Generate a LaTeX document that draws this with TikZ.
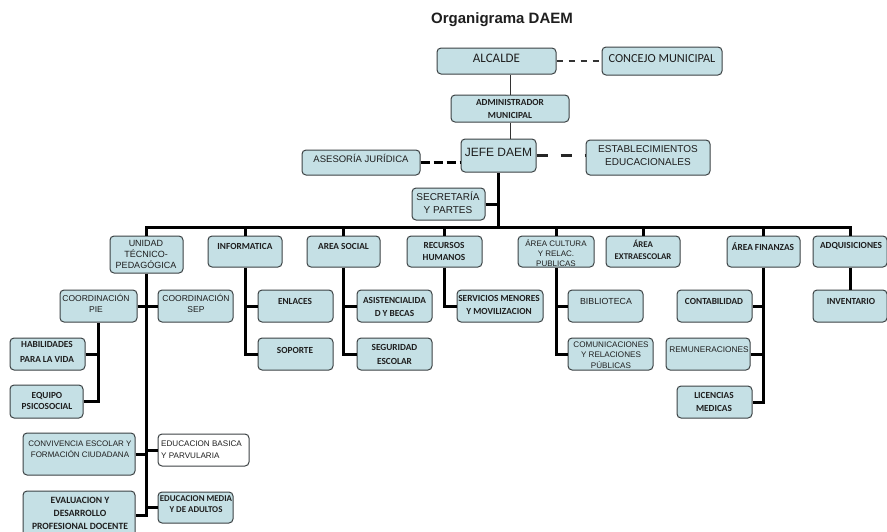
\documentclass[tikz,border=0pt]{standalone}
\usepackage{fontspec}
\setmainfont{Liberation Sans}
\newfontfamily\calib{Carlito}
\definecolor{boxfill}{RGB}{197,224,229}
\definecolor{boxline}{RGB}{60,66,68}
\definecolor{txtc}{RGB}{30,30,30}
\newcommand\bx[9]{%
  \pgfmathsetmacro\bw{#4-#2}\pgfmathsetmacro\bh{#5-#3}%
  \node[box, minimum width=\bw pt, minimum height=\bh pt] (#1) at ({(#2+#4)/2},{(#3+#5)/2}) {};
  \node[#8] (#1t) at (#6,#7) {#9};}
\begin{document}
\begin{tikzpicture}[x=1pt,y=-1pt,
  box/.style={draw=boxline, fill=boxfill, rounded corners=4pt, line width=1pt, inner sep=0pt},
  basetxt/.style={inner sep=0pt, align=center, text=txtc},
  cb/.style={basetxt, font=\calib\bfseries\fontsize{9.3}{13}\selectfont},
  cbs/.style={basetxt, font=\calib\bfseries\fontsize{8.8}{11.5}\selectfont},
  cr/.style={basetxt, font=\calib\fontsize{13}{15}\selectfont},
  ar/.style={basetxt, font=\fontsize{8.5}{11}\selectfont},
  arm/.style={basetxt, font=\fontsize{10}{13}\selectfont},
  ars/.style={basetxt, font=\fontsize{8.1}{10.5}\selectfont},
  thinl/.style={draw=black!80, line width=0.8pt},
  thk/.style={draw=black, line width=3pt},
  dashA/.style={draw=black!80, line width=1.4pt, dash pattern=on 6pt off 6pt},
  dashB/.style={draw=black, line width=3pt, dash pattern=on 9pt off 4pt},
  dashC/.style={draw=black!85, line width=2.3pt, dash pattern=on 11pt off 13pt}]
\useasboundingbox (0,0) rectangle (887,531);

\node[basetxt, font=\bfseries\fontsize{15}{17}\selectfont] (title) at (502,20) {Organigrama DAEM};

% top
\bx{alc}{437}{48}{556}{74}{496.5}{58}{cr}{ALCALDE}
\bx{conc}{602}{47}{722}{75}{662}{59}{cr, font=\calib\fontsize{12.3}{14}\selectfont}{CONCEJO MUNICIPAL}
\bx{adm}{451}{95}{569}{122}{510}{109}{cb}{ADMINISTRADOR\\MUNICIPAL}
\bx{jefe}{461}{139}{536}{172}{498.5}{152}{basetxt, font=\fontsize{12}{14}\selectfont}{JEFE DAEM}
\bx{ases}{302}{150}{420}{175}{361}{158}{basetxt, font=\fontsize{9.5}{12}\selectfont}{ASESORÍA JURÍDICA}
\bx{est}{586}{140}{710}{175}{648}{155.5}{arm}{ESTABLECIMIENTOS\\EDUCACIONALES}
\bx{sec}{412}{188}{485}{220}{448}{202.5}{arm}{SECRETARÍA\\Y PARTES}

% second level
\bx{utp}{110}{236}{183}{273}{146}{254}{basetxt, font=\fontsize{9}{11}\selectfont}{UNIDAD\\TÉCNICO-\\PEDAGÓGICA}
\bx{inf}{208}{236}{282}{267}{245}{246.5}{cb}{INFORMATICA}
\bx{soc}{307}{236}{380}{267}{343.5}{246.5}{cb}{AREA SOCIAL}
\bx{rrhh}{407}{236}{482}{267}{444}{251}{cb, font=\calib\bfseries\fontsize{9.3}{12}\selectfont}{RECURSOS\\HUMANOS}
\bx{cul}{518}{236}{594}{267}{556}{253}{basetxt, font=\fontsize{8}{10}\selectfont}{ÁREA CULTURA\\Y RELAC.\\PUBLICAS}
\bx{ext}{606}{236}{680}{267}{643}{250}{cbs}{ÁREA\\EXTRAESCOLAR}
\bx{fin}{727}{236}{800}{267}{763}{246.5}{cb}{ÁREA FINANZAS}
\bx{adq}{813}{236}{887}{267}{851}{246.5}{cb}{ADQUISICIONES}

% UTP branch
\bx{pie}{60}{290}{137}{322}{96}{303}{ar}{COORDINACIÓN\\PIE}
\bx{sep}{158}{290}{233}{322}{196}{303}{ar}{COORDINACIÓN\\SEP}
\bx{hab}{10}{338}{85}{370}{47}{352}{cb, font=\calib\bfseries\fontsize{9.3}{14.5}\selectfont}{HABILIDADES\\PARA LA VIDA}
\bx{equ}{10}{385}{83}{418}{47}{401}{cb, font=\calib\bfseries\fontsize{9.3}{11.5}\selectfont}{EQUIPO\\PSICOSOCIAL}
\bx{conv}{23}{433}{135}{475}{80}{449}{basetxt, font=\fontsize{8}{11.5}\selectfont}{CONVIVENCIA ESCOLAR Y\\FORMACIÓN CIUDADANA}
\node[box, fill=white, minimum width=91pt, minimum height=32pt] (edb) at (203.5,450) {};
\node[basetxt, align=left, anchor=west, font=\fontsize{8.1}{12}\selectfont] (edbt) at (161,450) {EDUCACION BASICA\\Y PARVULARIA};
\bx{eval}{23}{491}{135}{540}{80}{513}{cb, font=\calib\bfseries\fontsize{9.6}{13}\selectfont}{EVALUACION Y\\DESARROLLO\\PROFESIONAL DOCENTE}
\bx{edm}{158}{492}{233}{523}{196}{504.5}{cbs, font=\calib\bfseries\fontsize{8.9}{11}\selectfont}{EDUCACION MEDIA\\Y DE ADULTOS}

% other branches
\bx{enl}{258}{290}{333}{322}{295}{301}{cb}{ENLACES}
\bx{sop}{258}{338}{333}{370}{295}{350}{cb}{SOPORTE}
\bx{asi}{357}{290}{432}{322}{394.5}{306.5}{cb}{ASISTENCIALIDA\\D Y BECAS}
\bx{seg}{357}{338}{432}{370}{394.5}{354}{cb, font=\calib\bfseries\fontsize{9.3}{14}\selectfont}{SEGURIDAD\\ESCOLAR}
\bx{ser}{457}{290}{543}{322}{499}{304.5}{cb}{SERVICIOS MENORES\\Y MOVILIZACION}
\bx{bib}{568}{290}{643}{322}{606}{301}{basetxt, font=\fontsize{8.8}{11}\selectfont}{BIBLIOTECA}
\bx{com}{568}{338}{653}{370}{611}{355}{ars}{COMUNICACIONES\\Y RELACIONES\\PÚBLICAS}
\bx{con}{677}{290}{752}{322}{714}{301}{cb}{CONTABILIDAD}
\bx{rem}{666}{338}{750}{370}{709}{350}{basetxt, font=\fontsize{8.3}{11}\selectfont}{REMUNERACIONES}
\bx{lic}{677}{386}{752}{418}{714}{401.5}{cb}{LICENCIAS\\MEDICAS}
\bx{inv}{813}{290}{887}{322}{851}{301}{cb}{INVENTARIO}

% connectors top
\draw[thinl] (adm.north) -- (adm.north |- alc.south);
\draw[thinl] (adm.south) -- (adm.south |- jefe.north);
\draw[dashA] (alc.east) -- (conc.west);
\draw[dashB] (ases.east) -- (ases.east -| jefe.west);
\draw[dashC] (jefe.east) -- (jefe.east -| est.west);

\coordinate (busy) at (0,227);
\draw[thk] (jefe.south) -- (jefe.south |- busy);
\draw[thk] (sec.east) -- (sec.east -| jefe.south);
\draw[thk] (utp.north) -- (utp.north |- busy) -- (adq.north |- busy) -- (adq.north);
\foreach \n in {inf,soc,rrhh,cul,ext,fin}
  \draw[thk] (\n.north |- busy) -- (\n.north);

% UTP
\draw[thk] (utp.south) -- (utp.south |- eval.east) -- (eval.east);
\draw[thk] (pie.east) -- (sep.west);
\draw[thk] (conv.east) -- (conv.east -| utp.south);
\draw[thk] (edb.west) -- (edb.west -| utp.south);
\draw[thk] (edm.west) -- (edm.west -| utp.south);
\draw[thk] (pie.south) -- (pie.south |- equ.east) -- (equ.east);
\draw[thk] (hab.east) -- (hab.east -| pie.south);

% informatica, social
\draw[thk] (inf.south) -- (inf.south |- sop.west) -- (sop.west);
\draw[thk] (enl.west) -- (enl.west -| inf.south);
\draw[thk] (soc.south) -- (soc.south |- seg.west) -- (seg.west);
\draw[thk] (asi.west) -- (asi.west -| soc.south);
% rrhh
\draw[thk] (rrhh.south) -- (rrhh.south |- ser.west) -- (ser.west);
% cultura
\draw[thk] (cul.south) -- (cul.south |- com.west) -- (com.west);
\draw[thk] (bib.west) -- (bib.west -| cul.south);
% finanzas
\draw[thk] (fin.south) -- (fin.south |- lic.east) -- (lic.east);
\draw[thk] (con.east) -- (con.east -| fin.south);
\draw[thk] (rem.east) -- (rem.east -| fin.south);
% adquisiciones
\draw[thk] (adq.south) -- (inv.north);
\end{tikzpicture}
\end{document}
